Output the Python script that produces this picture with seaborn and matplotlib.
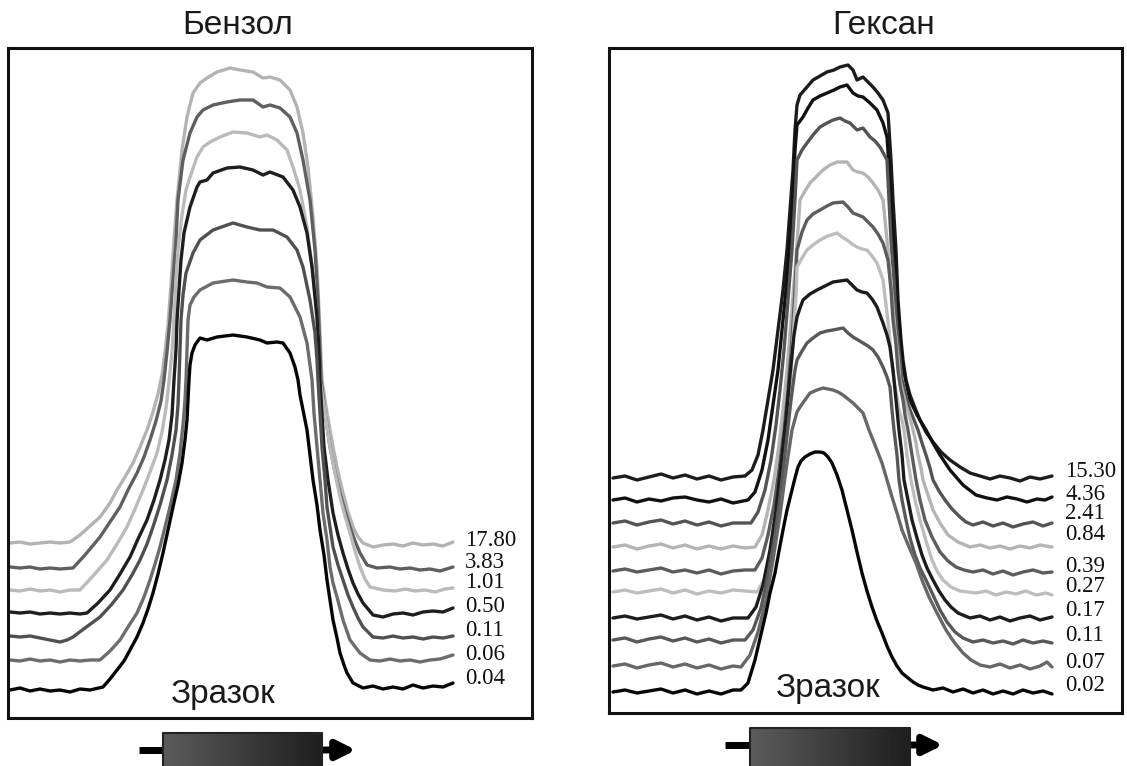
import matplotlib.pyplot as plt
import numpy as np
import pandas as pd
import seaborn as sns

sns.set_theme(style="white")
plt.rcParams["font.family"] = ["Liberation Sans", "DejaVu Sans"]

W, H = 1127, 766

# curves in image pixels (x right, y down)
bz_17_80 = [(10, 543), (20, 542), (30, 544), (40, 543), (50, 542), (60, 543), (70, 542), (80, 535), (90, 526),
            (100, 517), (110, 503), (117, 490), (125, 477), (133, 463), (140, 447), (147, 430), (153, 412),
            (158, 394), (162, 375), (165, 352), (168, 325), (171, 285), (174, 240), (177, 200), (182, 150),
            (187, 117), (193, 93), (200, 83), (207, 78), (217, 72), (230, 68), (240, 70), (253, 72), (263, 78),
            (270, 77), (280, 80), (290, 90), (297, 107), (303, 133), (308, 167), (313, 217), (317, 267),
            (320, 333), (322, 380), (327, 413), (333, 447), (338, 472), (343, 493), (348, 512), (353, 527),
            (358, 537), (363, 543), (373, 547), (383, 545), (393, 544), (403, 546), (413, 543), (423, 545),
            (433, 544), (443, 546), (453, 542)]
bz_3_83 = [(10, 567), (20, 568), (30, 567), (40, 569), (50, 568), (60, 569), (73, 568), (85, 555), (100, 537),
           (110, 522), (120, 507), (128, 490), (137, 473), (144, 457), (150, 440), (156, 421), (161, 401),
           (164, 380), (167, 352), (170, 320), (173, 280), (176, 240), (178, 200), (183, 160), (190, 133),
           (197, 117), (203, 110), (213, 105), (227, 102), (240, 100), (253, 100), (263, 107), (270, 105),
           (280, 108), (290, 117), (297, 133), (303, 160), (310, 200), (315, 250), (318, 300), (321, 380),
           (325, 413), (330, 447), (335, 472), (340, 493), (345, 511), (350, 527), (355, 541), (360, 553),
           (367, 565), (377, 568), (390, 567), (400, 569), (410, 568), (420, 570), (430, 569), (440, 571),
           (453, 567)]
bz_1_01 = [(10, 590), (20, 591), (30, 589), (40, 591), (50, 590), (60, 592), (70, 590), (80, 590), (92, 577),
           (107, 560), (117, 544), (127, 527), (135, 509), (143, 490), (150, 472), (157, 453), (162, 432),
           (166, 408), (169, 382), (172, 352), (174, 320), (176, 280), (178, 250), (182, 215), (186, 190),
           (190, 177), (197, 157), (203, 147), (210, 142), (220, 137), (233, 132), (247, 133), (260, 137),
           (267, 135), (277, 140), (287, 150), (293, 167), (300, 190), (307, 227), (313, 273), (318, 333),
           (320, 380), (325, 413), (330, 447), (335, 473), (340, 497), (345, 516), (350, 533), (355, 551),
           (360, 567), (365, 579), (370, 587), (383, 590), (395, 591), (405, 589), (415, 591), (425, 590),
           (435, 592), (445, 589), (453, 588)]
bz_0_50 = [(10, 612), (20, 613), (30, 612), (40, 614), (50, 613), (60, 614), (70, 613), (80, 614), (87, 613),
           (98, 603), (110, 590), (120, 574), (130, 557), (138, 539), (147, 520), (154, 500), (160, 480),
           (165, 460), (169, 440), (172, 415), (174, 380), (176, 350), (177, 320), (179, 290), (181, 260),
           (184, 233), (190, 207), (197, 187), (200, 182), (207, 180), (213, 173), (227, 168), (240, 167),
           (253, 170), (263, 175), (270, 172), (283, 177), (293, 190), (300, 207), (307, 233), (312, 267),
           (317, 317), (319, 350), (320, 380), (322, 415), (324, 447), (328, 480), (333, 513), (338, 535),
           (343, 553), (348, 569), (353, 583), (358, 594), (363, 603), (373, 615), (383, 617), (393, 614),
           (403, 613), (413, 615), (423, 612), (433, 611), (443, 612), (453, 608)]
bz_0_11 = [(10, 636), (20, 637), (30, 636), (40, 638), (50, 640), (60, 642), (67, 640), (73, 637), (85, 628),
           (100, 617), (112, 604), (123, 590), (132, 575), (140, 560), (147, 544), (153, 527), (160, 505),
           (167, 480), (172, 455), (176, 430), (178, 405), (179, 380), (180, 350), (181, 320), (183, 295),
           (186, 273), (193, 253), (200, 240), (213, 230), (233, 223), (247, 227), (260, 230), (273, 230),
           (287, 237), (297, 250), (303, 267), (310, 300), (315, 333), (317, 360), (318, 380), (320, 413),
           (322, 447), (325, 480), (327, 507), (330, 527), (333, 547), (338, 565), (343, 580), (348, 595),
           (353, 607), (358, 618), (363, 627), (373, 637), (383, 638), (393, 636), (403, 638), (413, 637),
           (423, 639), (433, 637), (443, 638), (453, 636)]
bz_0_06 = [(10, 660), (20, 661), (30, 659), (40, 661), (50, 660), (60, 662), (70, 660), (80, 661), (90, 660),
           (100, 660), (110, 651), (120, 640), (128, 627), (137, 613), (144, 597), (150, 580), (155, 564),
           (160, 547), (165, 527), (170, 507), (176, 480), (180, 453), (183, 425), (185, 400), (186, 380),
           (187, 350), (188, 320), (190, 305), (194, 297), (200, 290), (213, 283), (233, 280), (247, 282),
           (257, 283), (267, 287), (280, 288), (290, 297), (300, 317), (307, 343), (310, 365), (312, 380),
           (314, 413), (317, 447), (320, 480), (323, 513), (327, 540), (330, 567), (333, 583), (337, 597),
           (343, 620), (350, 640), (360, 653), (370, 660), (380, 661), (390, 659), (400, 661), (410, 660),
           (420, 662), (430, 660), (440, 659), (453, 655)]
bz_0_04 = [(10, 690), (20, 688), (30, 691), (40, 689), (50, 691), (60, 690), (70, 692), (80, 689), (90, 690),
           (103, 687), (110, 679), (117, 670), (124, 661), (130, 650), (137, 637), (143, 623), (148, 609),
           (153, 593), (158, 574), (163, 553), (168, 530), (173, 507), (178, 485), (182, 463), (185, 440),
           (187, 420), (188, 400), (189, 380), (190, 365), (192, 353), (195, 345), (200, 338), (207, 340),
           (217, 337), (233, 335), (247, 337), (260, 340), (267, 343), (277, 342), (283, 343), (290, 353),
           (295, 367), (298, 380), (300, 395), (303, 410), (307, 430), (310, 455), (313, 480), (317, 505),
           (320, 530), (324, 555), (327, 580), (330, 600), (333, 620), (337, 638), (340, 653), (344, 665),
           (347, 673), (353, 683), (363, 688), (373, 686), (383, 689), (393, 687), (403, 689), (413, 685),
           (423, 688), (433, 686), (443, 687), (453, 683)]

hx_15_30 = [(613, 478), (625, 476), (637, 480), (649, 477), (661, 474), (673, 478), (685, 475), (697, 479),
            (709, 476), (721, 480), (733, 477), (745, 476), (752, 470), (758, 455), (763, 430), (768, 400),
            (773, 370), (778, 330), (783, 290), (787, 250), (790, 210), (793, 170), (795, 130), (797, 105),
            (800, 95), (807, 87), (813, 80), (820, 76), (827, 72), (834, 70), (840, 67), (848, 65), (853, 70),
            (857, 80), (863, 77), (868, 82), (873, 87), (878, 93), (883, 100), (888, 113), (891, 160),
            (893, 200), (896, 250), (898, 300), (901, 340), (903, 360), (906, 380), (910, 395), (915, 408),
            (920, 420), (926, 432), (933, 442), (941, 452), (950, 460), (960, 467), (970, 473), (980, 476),
            (990, 479), (1000, 476), (1010, 478), (1020, 481), (1030, 477), (1040, 479), (1052, 476)]
hx_4_36 = [(613, 500), (625, 498), (637, 502), (649, 499), (661, 501), (673, 498), (685, 497), (697, 500),
           (709, 502), (721, 499), (733, 503), (748, 500), (755, 492), (762, 470), (768, 440), (773, 405),
           (778, 370), (782, 330), (786, 290), (790, 240), (793, 190), (795, 150), (797, 125), (803, 117),
           (808, 108), (813, 100), (820, 96), (827, 93), (834, 90), (840, 87), (847, 85), (853, 93), (858, 96),
           (863, 97), (870, 103), (877, 110), (883, 123), (887, 137), (890, 180), (892, 220), (895, 260),
           (897, 300), (900, 335), (902, 360), (906, 382), (910, 400), (917, 415), (926, 430), (933, 443),
           (940, 455), (950, 470), (963, 485), (976, 495), (987, 498), (997, 500), (1007, 497), (1017, 499),
           (1027, 502), (1037, 499), (1045, 500), (1052, 497)]
hx_2_41 = [(613, 523), (625, 521), (637, 525), (649, 522), (661, 520), (673, 524), (685, 521), (697, 525),
           (709, 522), (721, 526), (733, 523), (751, 523), (758, 512), (765, 490), (771, 460), (776, 425),
           (780, 390), (784, 350), (788, 300), (792, 250), (795, 200), (797, 160), (802, 150), (807, 143),
           (813, 135), (820, 127), (827, 123), (833, 120), (840, 118), (845, 121), (850, 123), (857, 130),
           (863, 128), (870, 137), (875, 141), (880, 147), (887, 160), (889, 200), (891, 240), (894, 280),
           (896, 320), (899, 350), (902, 380), (906, 397), (910, 410), (914, 420), (918, 430), (922, 443),
           (926, 455), (930, 468), (933, 480), (939, 491), (945, 500), (952, 509), (960, 517), (966, 522),
           (973, 525), (983, 522), (993, 526), (1003, 523), (1013, 527), (1023, 524), (1033, 522), (1043, 526),
           (1052, 523)]
hx_0_84 = [(613, 547), (625, 545), (637, 549), (649, 546), (661, 544), (673, 548), (685, 545), (697, 549),
           (709, 546), (721, 549), (733, 546), (745, 548), (755, 547), (762, 535), (768, 510), (774, 480),
           (779, 445), (783, 410), (787, 370), (791, 320), (795, 270), (798, 230), (800, 200), (805, 191),
           (810, 183), (817, 176), (823, 170), (830, 165), (837, 162), (847, 162), (853, 170), (858, 172),
           (863, 173), (868, 177), (873, 183), (878, 190), (883, 200), (886, 230), (889, 260), (892, 295),
           (895, 330), (898, 357), (900, 380), (903, 393), (906, 405), (910, 418), (913, 430), (916, 443),
           (918, 455), (921, 468), (923, 480), (928, 495), (933, 510), (940, 523), (948, 535), (958, 542),
           (970, 547), (980, 545), (990, 548), (1000, 546), (1010, 549), (1020, 546), (1030, 548), (1040, 545),
           (1052, 547)]
hx_0_39 = [(613, 571), (625, 569), (637, 572), (649, 570), (661, 568), (673, 572), (685, 570), (697, 573),
           (709, 570), (721, 574), (733, 571), (745, 570), (755, 570), (762, 558), (768, 535), (774, 505),
           (779, 470), (784, 430), (788, 390), (792, 340), (795, 290), (797, 250), (802, 232), (807, 220),
           (813, 214), (820, 210), (827, 206), (833, 203), (843, 202), (848, 207), (853, 213), (858, 215),
           (863, 217), (868, 222), (873, 227), (878, 234), (883, 243), (888, 260), (891, 290), (893, 320),
           (896, 345), (898, 370), (900, 385), (903, 400), (905, 415), (908, 430), (912, 455), (916, 480),
           (920, 500), (925, 520), (932, 537), (940, 552), (948, 561), (956, 567), (964, 570), (973, 572),
           (983, 570), (993, 574), (1003, 571), (1013, 575), (1023, 572), (1033, 570), (1043, 573), (1052, 572)]
hx_0_27 = [(613, 592), (625, 590), (637, 593), (649, 591), (661, 589), (673, 593), (685, 590), (697, 594),
           (709, 591), (721, 593), (733, 590), (745, 591), (757, 592), (764, 580), (770, 555), (776, 520),
           (781, 480), (786, 435), (790, 390), (793, 340), (796, 295), (797, 267), (802, 258), (807, 250),
           (813, 245), (820, 240), (828, 236), (837, 233), (842, 237), (847, 240), (852, 244), (857, 247),
           (862, 249), (867, 250), (872, 256), (877, 263), (883, 280), (886, 305), (889, 330), (891, 355),
           (894, 380), (897, 397), (899, 410), (902, 420), (904, 430), (907, 455), (911, 480), (915, 500),
           (920, 520), (926, 541), (932, 560), (937, 571), (943, 580), (951, 587), (960, 591), (976, 593),
           (986, 591), (996, 595), (1006, 592), (1016, 594), (1026, 591), (1036, 595), (1046, 593), (1052, 595)]
hx_0_17 = [(613, 618), (625, 616), (637, 619), (649, 617), (661, 615), (673, 619), (685, 616), (697, 620),
           (709, 617), (721, 621), (733, 618), (748, 618), (756, 607), (763, 585), (770, 550), (776, 510),
           (781, 465), (786, 420), (790, 375), (794, 335), (797, 317), (800, 308), (803, 300), (810, 294),
           (817, 290), (825, 286), (833, 282), (840, 281), (847, 280), (852, 285), (857, 290), (862, 292),
           (867, 293), (872, 299), (877, 307), (883, 323), (887, 335), (890, 347), (893, 370), (895, 390),
           (897, 410), (899, 430), (902, 455), (904, 480), (908, 500), (912, 520), (917, 538), (922, 555),
           (927, 568), (933, 580), (939, 591), (945, 600), (951, 607), (958, 613), (970, 618), (980, 616),
           (990, 620), (1000, 617), (1010, 621), (1020, 618), (1030, 616), (1040, 620), (1052, 617)]
hx_0_11 = [(613, 640), (625, 638), (637, 642), (649, 639), (661, 637), (673, 641), (685, 638), (697, 642),
           (709, 639), (721, 643), (733, 640), (745, 640), (753, 630), (761, 608), (768, 575), (775, 535),
           (781, 490), (786, 445), (791, 400), (795, 370), (797, 360), (802, 351), (807, 343), (813, 338),
           (820, 333), (827, 331), (833, 330), (843, 328), (848, 333), (853, 337), (858, 340), (863, 343),
           (868, 346), (873, 350), (878, 357), (883, 367), (887, 377), (890, 387), (892, 410), (894, 430),
           (897, 455), (899, 480), (902, 500), (906, 520), (910, 538), (915, 555), (920, 568), (926, 580),
           (933, 595), (940, 610), (947, 622), (955, 632), (963, 638), (973, 642), (983, 640), (993, 643),
           (1003, 641), (1013, 644), (1023, 640), (1033, 643), (1043, 641), (1052, 643)]
hx_0_07 = [(613, 666), (625, 664), (637, 668), (649, 665), (661, 663), (673, 667), (685, 664), (697, 668),
           (709, 665), (721, 669), (733, 666), (741, 667), (750, 655), (758, 632), (766, 600), (773, 560),
           (780, 515), (786, 470), (792, 430), (797, 412), (800, 407), (805, 400), (810, 393), (817, 390),
           (823, 388), (828, 389), (833, 390), (838, 392), (843, 395), (848, 399), (853, 403), (858, 408),
           (863, 413), (869, 430), (875, 445), (882, 463), (887, 480), (892, 497), (897, 513), (902, 530),
           (909, 547), (916, 563), (922, 580), (929, 597), (937, 613), (946, 630), (954, 642), (963, 653),
           (971, 660), (980, 665), (990, 667), (1000, 664), (1010, 668), (1020, 665), (1030, 669), (1040, 666),
           (1047, 662), (1052, 667)]
hx_0_02 = [(613, 692), (625, 690), (637, 693), (649, 691), (661, 689), (673, 693), (685, 690), (697, 694),
           (709, 691), (721, 694), (733, 690), (741, 690), (748, 683), (751, 673), (755, 660), (758, 647),
           (762, 630), (766, 613), (770, 593), (775, 573), (779, 551), (783, 530), (787, 510), (792, 490),
           (795, 478), (798, 467), (801, 461), (805, 457), (810, 454), (815, 452), (820, 452), (824, 453),
           (828, 457), (832, 463), (837, 475), (842, 490), (847, 510), (852, 530), (857, 552), (862, 573),
           (867, 591), (872, 607), (877, 621), (882, 633), (887, 646), (892, 657), (897, 666), (902, 673),
           (908, 678), (913, 682), (918, 685), (923, 687), (933, 690), (943, 688), (953, 692), (963, 689),
           (973, 693), (983, 690), (993, 694), (1003, 691), (1013, 694), (1023, 690), (1033, 693), (1043, 691),
           (1052, 694)]

bz_labels = ["17.80", "3.83", "1.01", "0.50", "0.11", "0.06", "0.04"]
bz_curves = [bz_17_80, bz_3_83, bz_1_01, bz_0_50, bz_0_11, bz_0_06, bz_0_04]
bz_label_y = [540, 562, 582, 606, 630, 654, 679]

hx_labels = ["15.30", "4.36", "2.41", "0.84", "0.39", "0.27", "0.17", "0.11", "0.07", "0.02"]
hx_curves = [hx_15_30, hx_4_36, hx_2_41, hx_0_84, hx_0_39, hx_0_27, hx_0_17, hx_0_11, hx_0_07, hx_0_02]
hx_label_y = [472, 495, 514, 535, 567, 587, 611, 636, 663, 686]

bz_colors = ["#b3b3b3", "#5f5f5f", "#bababa", "#1e1e1e", "#505050", "#6c6c6c", "#050505"]
hx_colors = ["#1c1c1c", "#111111", "#545454", "#b4b4b4", "#5c5c5c", "#bdbdbd", "#1c1c1c", "#585858",
             "#676767", "#050505"]


def to_frame(labels, curves):
    rows = []
    for lab, pts in zip(labels, curves):
        for i, (x, y) in enumerate(pts):
            rows.append({"curve": lab, "order": i, "x": x, "y": y})
    return pd.DataFrame(rows)


def draw_panel(fig, box, labels, curves, colors, label_y, label_x, title, title_x, sample_xy):
    x0, y0, x1, y1 = box
    ax = fig.add_axes([x0 / W, 1 - y1 / H, (x1 - x0) / W, (y1 - y0) / H])
    df = to_frame(labels, curves)
    sns.lineplot(data=df, x="x", y="y", hue="curve", hue_order=labels,
                 palette=dict(zip(labels, colors)), estimator=None, sort=False,
                 linewidth=2.4, legend=False, ax=ax, solid_joinstyle="round", solid_capstyle="round")
    ax.set_xlim(x0, x1)
    ax.set_ylim(y1, y0)
    ax.set_xticks([])
    ax.set_yticks([])
    ax.set_xlabel("")
    ax.set_ylabel("")
    for s in ax.spines.values():
        s.set_visible(True)
        s.set_color("#111111")
        s.set_linewidth(2.2)
    for lab, ly in zip(labels, label_y):
        ax.text(label_x, ly, lab, ha="left", va="center", fontsize=16.5,
                family=["Liberation Serif", "DejaVu Serif"], color="#111111")
    ax.text(sample_xy[0], sample_xy[1], "Зразок", ha="center", va="center", fontsize=24, color="#1a1a1a")
    fig.text(title_x / W, 1 - 25 / H, title, ha="center", va="center", fontsize=24, color="#1a1a1a")
    return ax


fig = plt.figure(figsize=(W / 100, H / 100), dpi=100)

draw_panel(fig, (8, 48, 532, 718), bz_labels, bz_curves, bz_colors, bz_label_y, 465,
           "Бензол", 238, (223, 694))
draw_panel(fig, (609, 48, 1122, 713), hx_labels, hx_curves, hx_colors, hx_label_y, 1065,
           "Гексан", 884, (828, 689))

# sample sketch under each panel
deco = fig.add_axes([0, 0, 1, 1])
deco.set_xlim(0, W)
deco.set_ylim(H, 0)
deco.axis("off")
grad = np.linspace(0.36, 0.12, 256)[None, :]
for bx0, bx1, by, lx0, tip in [(163, 322, 733, 139, 356), (750, 910, 728, 725, 943)]:
    ay = by + 17
    deco.plot([lx0, bx0], [ay, ay], color="black", lw=5, solid_capstyle="butt")
    deco.annotate("", xy=(tip, ay), xytext=(bx1 - 1, ay),
                  arrowprops=dict(arrowstyle="-|>", lw=5, color="black", mutation_scale=28,
                                  shrinkA=0, shrinkB=0))
    deco.imshow(grad, cmap="gray", vmin=0, vmax=1, aspect="auto",
                extent=(bx0, bx1, H + 5, by), zorder=3)
    deco.plot([bx0, bx0, bx1, bx1], [H + 5, by, by, H + 5], color="#222222", lw=1.5, zorder=4)
deco.set_xlim(0, W)
deco.set_ylim(H, 0)

fig.savefig("out.png", dpi=100, facecolor="white")
